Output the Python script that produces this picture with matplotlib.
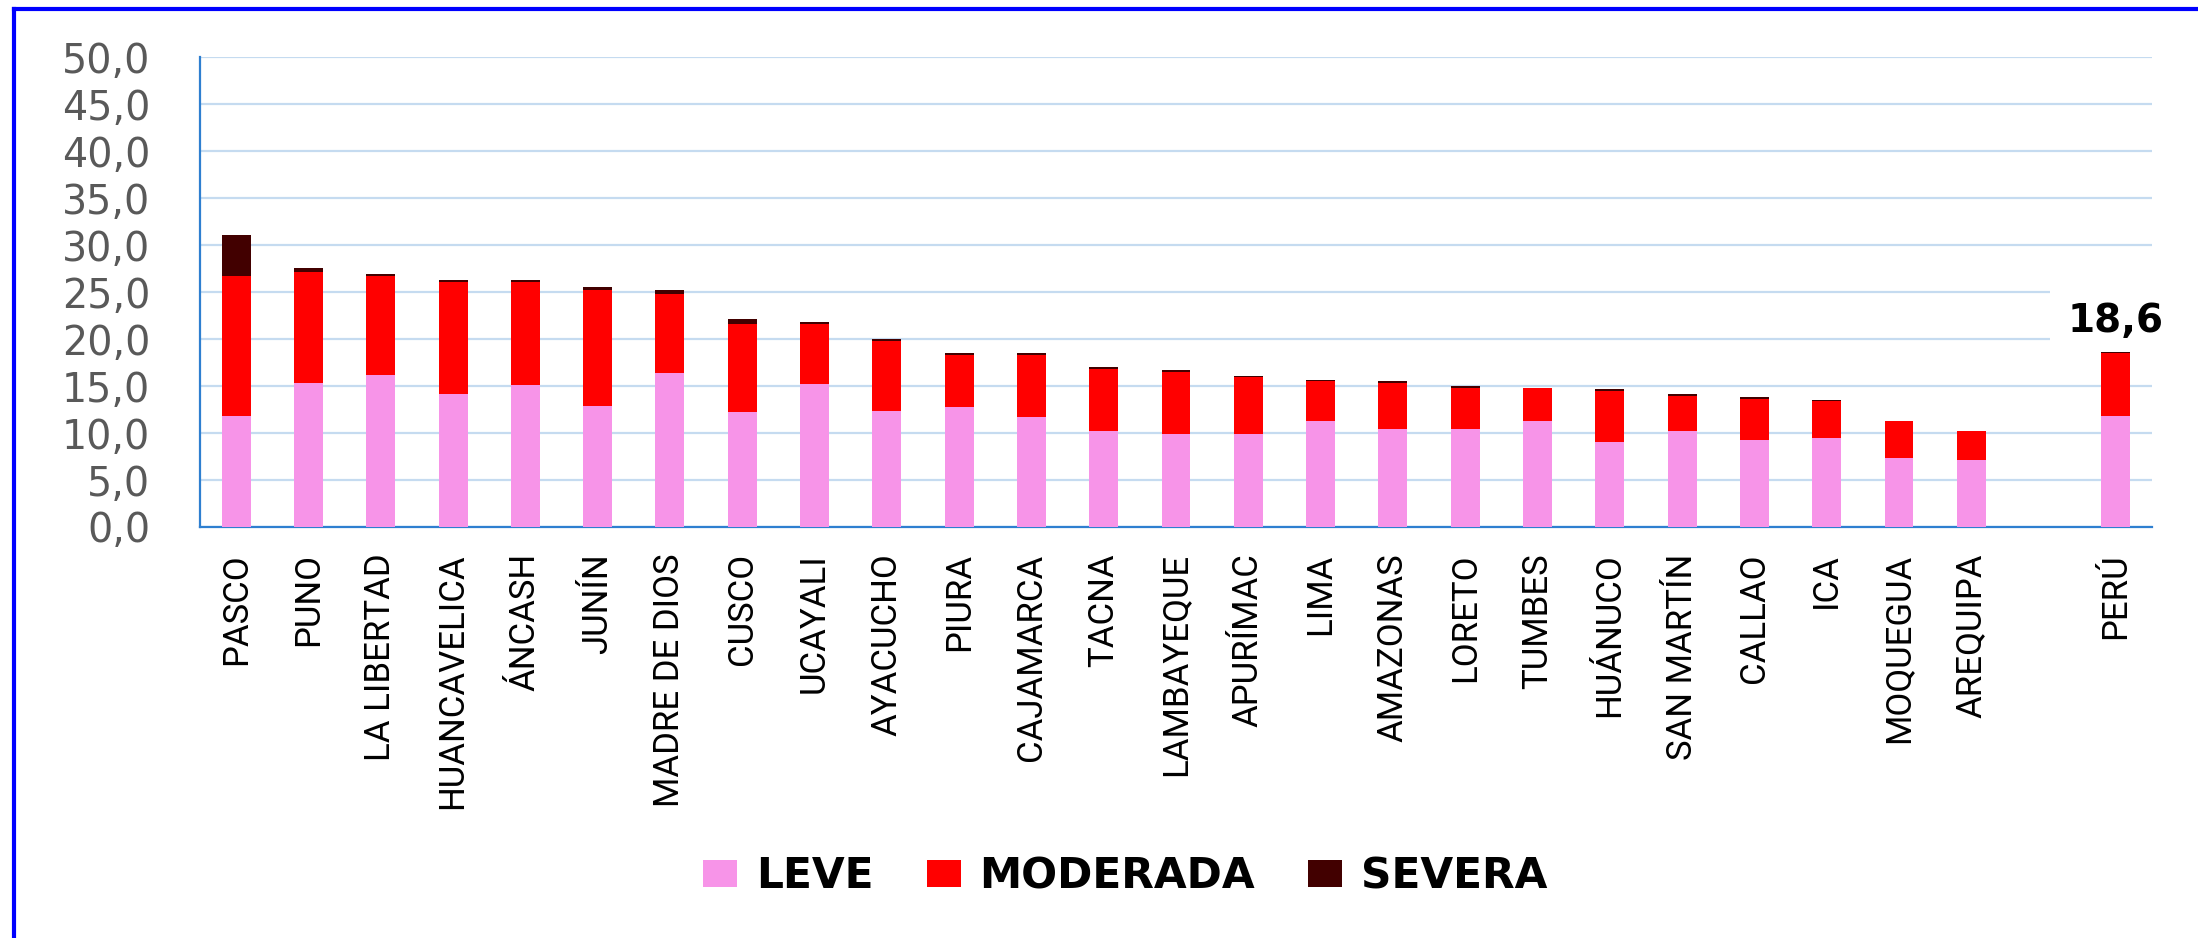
import matplotlib
matplotlib.use("Agg")
import matplotlib.pyplot as plt
from matplotlib.lines import Line2D

# datos por región (%)
regiones = ["PASCO", "PUNO", "LA LIBERTAD", "HUANCAVELICA", "ÁNCASH", "JUNÍN",
            "MADRE DE DIOS", "CUSCO", "UCAYALI", "AYACUCHO", "PIURA", "CAJAMARCA",
            "TACNA", "LAMBAYEQUE", "APURÍMAC", "LIMA", "AMAZONAS", "LORETO",
            "TUMBES", "HUÁNUCO", "SAN MARTÍN", "CALLAO", "ICA", "MOQUEGUA",
            "AREQUIPA", "PERÚ"]
leve = [11.8, 15.3, 16.2, 14.2, 15.1, 12.9, 16.4, 12.2, 15.2, 12.4, 12.8, 11.7,
        10.2, 9.9, 9.9, 11.3, 10.4, 10.4, 11.3, 9.1, 10.2, 9.3, 9.5, 7.3, 7.1, 11.8]
moderada = [14.9, 11.9, 10.5, 11.9, 11.0, 12.3, 8.4, 9.4, 6.4, 7.4, 5.5, 6.6,
            6.6, 6.6, 6.1, 4.2, 4.9, 4.4, 3.5, 5.4, 3.8, 4.3, 3.9, 4.0, 3.1, 6.7]
severa = [4.4, 0.4, 0.2, 0.2, 0.2, 0.4, 0.45, 0.5, 0.2, 0.2, 0.2, 0.2,
          0.2, 0.2, 0.05, 0.2, 0.2, 0.2, 0.0, 0.15, 0.2, 0.2, 0.15, 0.0, 0.0, 0.1]
total_peru = 18.6

C_LEVE = "#F794E8"
C_MOD = "#FF0000"
C_SEV = "#420000"

# posiciones: hueco vacío antes de PERÚ
pos = list(range(len(regiones) - 1)) + [len(regiones)]
base2 = [a + b for a, b in zip(leve, moderada)]

fig = plt.figure(figsize=(21.98, 9.38), dpi=100)
ax = fig.add_axes([0.0910, 0.4382, 0.8881, 0.5005])

ax.bar(pos, leve, width=0.4, color=C_LEVE, label="LEVE", zorder=3)
ax.bar(pos, moderada, width=0.4, bottom=leve, color=C_MOD, label="MODERADA", zorder=3)
ax.bar(pos, severa, width=0.4, bottom=base2, color=C_SEV, label="SEVERA", zorder=3)

ax.set_xlim(-0.5, len(regiones) + 0.5)
ax.set_ylim(0, 50)
ax.set_yticks(range(0, 51, 5))
ax.set_yticklabels([f"{v:.1f}".replace(".", ",") for v in range(0, 51, 5)])
ax.set_xticks(pos)
ax.set_xticklabels(regiones, rotation=90, va="top", ha="center",
                   family=["Roboto", "DejaVu Sans"], fontsize=25)
ax.tick_params(axis="y", length=0, pad=36, labelsize=28.5, labelcolor="#595959")
ax.tick_params(axis="x", length=0, pad=19, labelcolor="black")

ax.grid(axis="y", color="#C5DBF0", linewidth=1.6, zorder=0)
for s in ["top", "right"]:
    ax.spines[s].set_visible(False)
for s in ["left", "bottom"]:
    ax.spines[s].set_color("#2E7FD0")
    ax.spines[s].set_linewidth(1.6)

# etiqueta del total nacional (fondo blanco tapa la rejilla, no la barra)
ax.annotate(f"{total_peru:.1f}".replace(".", ","), xy=(pos[-1], total_peru),
            xytext=(0, 9), textcoords="offset points", ha="center", va="bottom",
            fontsize=28, fontweight="bold", color="black", zorder=2.5,
            bbox=dict(boxstyle="square,pad=0.45", fc="white", ec="none"))

fig.legend(loc="center", bbox_to_anchor=(0.512, 0.066), ncol=3, frameon=False,
           prop={"size": 30.5, "weight": "bold"}, handlelength=0.8,
           handleheight=0.6, handletextpad=0.45, columnspacing=1.25)

# marco azul (solo visible arriba e izquierda)
fig.add_artist(Line2D([0.0064, 1.0], [0.9904, 0.9904], transform=fig.transFigure,
                      color="#0000FF", linewidth=3.0))
fig.add_artist(Line2D([0.0064, 0.0064], [0.0, 0.9904], transform=fig.transFigure,
                      color="#0000FF", linewidth=3.0))

fig.savefig("out.png", dpi=100, facecolor="white")
